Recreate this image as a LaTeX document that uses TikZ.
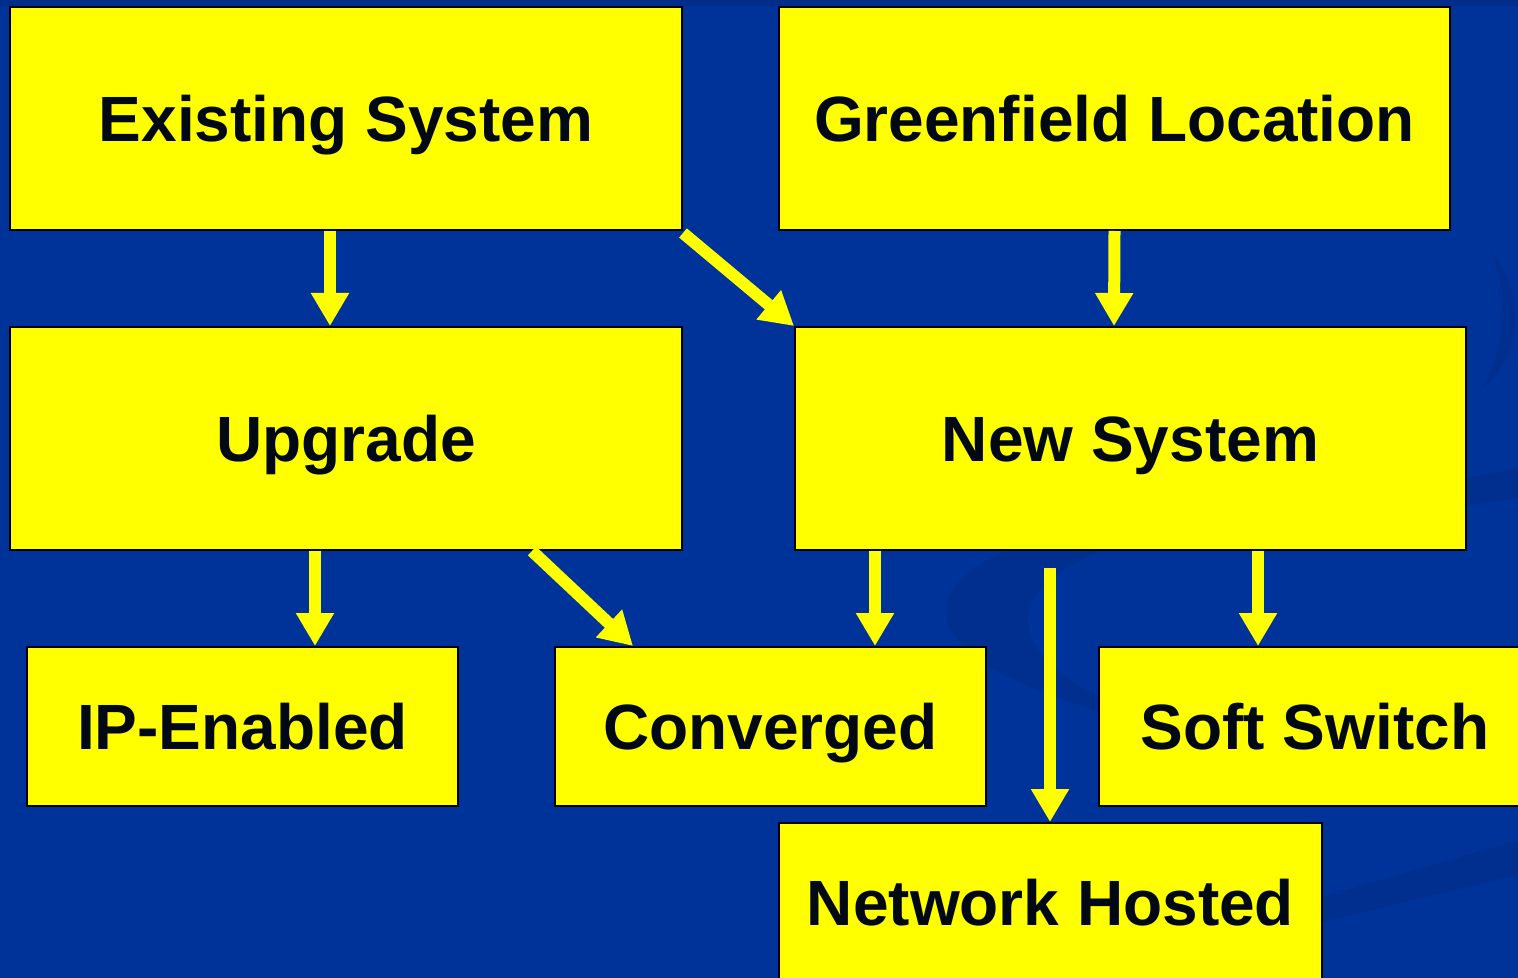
\documentclass[tikz,border=0pt]{standalone}
\usepackage{fontspec}
\setmainfont{Liberation Sans}
\usetikzlibrary{arrows.meta}
\definecolor{bg}{RGB}{0,51,153}
\definecolor{bgdark}{RGB}{0,40,125}
\definecolor{ybox}{RGB}{255,255,0}
\definecolor{txt}{RGB}{0,8,20}
\begin{document}
\begin{tikzpicture}[x=0.5pt,y=-0.5pt,
  box/.style={draw=black, line width=1pt, fill=ybox, inner sep=0pt,
    font=\bfseries\fontsize{32}{38}\selectfont, text=txt,
    text height=23pt, text depth=0pt},
  arr/.style={draw=ybox, line width=6pt, -{Triangle[width=18pt,length=16.5pt]}},
  swoosh/.style={fill=bgdark, opacity=0.3}]
\useasboundingbox (0,0) rectangle (1518,978);
\clip (0,0) rectangle (1518,978);
\fill[bg] (0,0) rectangle (1518,978);
\fill[bgdark, opacity=0.5] (0,0) rectangle (1518,6);
% faint background swooshes
\fill[swoosh] (1330,500) .. controls (880,510) and (820,660) .. (1180,730)
  .. controls (940,650) and (980,540) .. (1330,500) -- cycle;
\fill[swoosh] (1000,990) -- (1518,840) -- (1518,875) -- (1000,1000) -- cycle;
\fill[swoosh] (1300,510) -- (1518,468) -- (1518,498) -- (1300,530) -- cycle;
\fill[swoosh] (1490,250) .. controls (1530,300) and (1520,360) .. (1480,390)
  .. controls (1505,350) and (1510,300) .. (1490,250) -- cycle;
% boxes
\node[box, minimum width=336pt, minimum height=111.5pt] (ex) at (346,118.5) {Existing System};
\node[box, minimum width=335.5pt, minimum height=111.5pt] (gf) at (1114.5,118.5) {Greenfield Location};
\node[box, minimum width=336pt, minimum height=111.5pt] (up) at (346,438.5) {Upgrade};
\node[box, minimum width=335.5pt, minimum height=111.5pt] (ns) at (1130.5,438.5) {New System};
\node[box, minimum width=215.5pt, minimum height=79.5pt] (ip) at (242.5,726.5) {IP-Enabled};
\node[box, minimum width=215.5pt, minimum height=79.5pt] (cv) at (770.5,726.5) {Converged};
\node[box, minimum width=216pt, minimum height=79.5pt] (ss) at (1315,726.5) {Soft Switch};
\node[box, minimum width=271.5pt, minimum height=79.5pt] (nh) at (1050.5,902.5) {Network Hosted};
% connectors
\draw[arr] ([xshift=-8pt]ex.south) -- ([xshift=-8pt]up.north);
\draw[arr] ([shift={(0pt,-1pt)}]ex.south east) -- (ns.north west);
\draw[arr] (gf.south) -- ([xshift=-8.25pt]ns.north);
\draw[arr] ([xshift=-15.5pt]up.south) -- ([xshift=36.25pt]ip.north);
\draw[arr] ([xshift=93pt]up.south) -- ([xshift=-68.75pt]cv.north);
\draw[arr] ([xshift=-127.75pt]ns.south) -- ([xshift=52.25pt]cv.north);
\draw[arr] ([shift={(-40.25pt,-8.5pt)}]ns.south) -- ([xshift=-0.25pt]nh.north);
\draw[arr] ([xshift=63.75pt]ns.south) -- ([xshift=-28.5pt]ss.north);
\end{tikzpicture}
\end{document}
